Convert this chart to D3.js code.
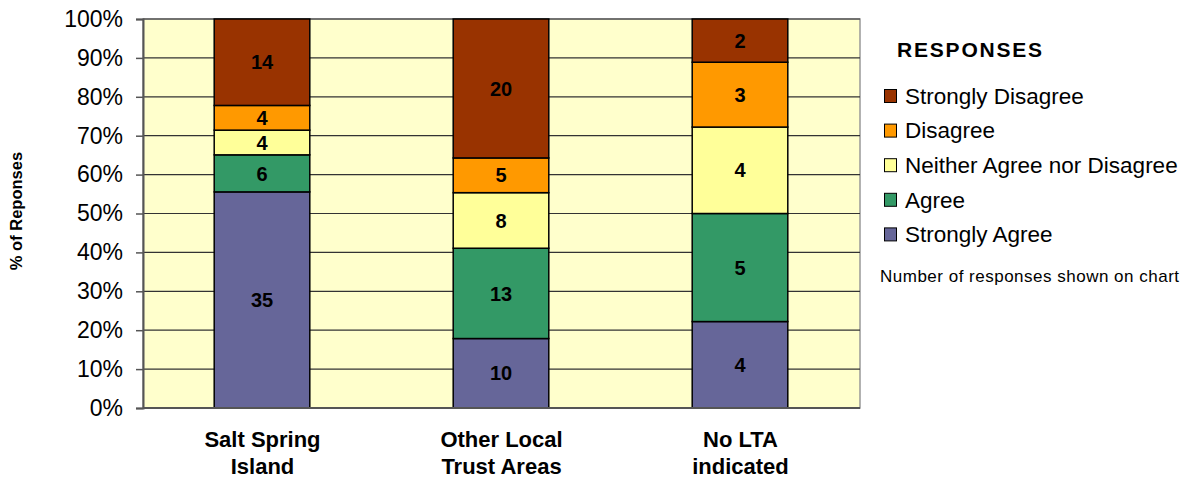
<!DOCTYPE html>
<html>
<head>
<meta charset="utf-8">
<script src="https://cdn.jsdelivr.net/npm/d3@7"></script>
<style>
  body { margin: 0; background: #fff; }
  svg { display: block; font-family: "Liberation Sans", Arial, sans-serif; }
</style>
</head>
<body>
<svg id="chart" width="1188" height="478"></svg>
<script>
// Survey responses by local trust area (counts)
const categories = [["Salt Spring", "Island"], ["Other Local", "Trust Areas"], ["No LTA", "indicated"]];
const seriesNames = ["Strongly Agree", "Agree", "Neither Agree nor Disagree", "Disagree", "Strongly Disagree"];
const strongAgree = [35, 10, 4];
const agree = [6, 13, 5];
const neither = [4, 8, 4];
const disagree = [4, 5, 3];
const strongDisagree = [14, 20, 2];
const yTicks = [0, 0.1, 0.2, 0.3, 0.4, 0.5, 0.6, 0.7, 0.8, 0.9, 1];
const colors = ["#666699", "#339966", "#FFFF99", "#FF9900", "#993300"];

const seriesValues = [strongAgree, agree, neither, disagree, strongDisagree];
const rows = categories.map((c, i) => {
  const r = { key: i };
  seriesNames.forEach((s, j) => r[s] = seriesValues[j][i]);
  r.total = d3.sum(seriesValues, v => v[i]);
  return r;
});

const svg = d3.select("#chart");
const plot = { left: 143, top: 19, right: 860, bottom: 408 };

const x = d3.scaleBand().domain(rows.map(r => r.key)).range([plot.left, plot.right]).paddingInner(0.6).paddingOuter(0.3);
const y = d3.scaleLinear().domain([0, 1]).range([plot.bottom, plot.top]);

// plot background and border
svg.append("rect")
  .attr("x", plot.left).attr("y", plot.top)
  .attr("width", plot.right - plot.left).attr("height", plot.bottom - plot.top)
  .attr("fill", "#FFFFCC").attr("stroke", "#999").attr("stroke-width", 1.5);

// horizontal gridlines
svg.append("g").selectAll("line").data(yTicks.slice(1)).join("line")
  .attr("x1", plot.left).attr("x2", plot.right)
  .attr("y1", d => y(d)).attr("y2", d => y(d))
  .attr("stroke", "#333").attr("stroke-width", 1.2);

// stacked bars (normalised to 100%)
const stack = d3.stack().keys(seriesNames).value((r, k) => r[k] / r.total);
const layers = stack(rows);

const g = svg.append("g");
layers.forEach((layer, j) => {
  g.append("g").selectAll("rect").data(layer).join("rect")
    .attr("x", d => x(d.data.key) - 0.5)
    .attr("width", x.bandwidth())
    .attr("y", d => y(d[1]))
    .attr("height", d => y(d[0]) - y(d[1]))
    .attr("fill", colors[j])
    .attr("stroke", "#000").attr("stroke-width", 1.5);
});
layers.forEach((layer, j) => {
  g.append("g").selectAll("text").data(layer).join("text")
    .attr("x", d => x(d.data.key) - 0.5 + x.bandwidth() / 2)
    .attr("y", d => (y(d[0]) + y(d[1])) / 2)
    .attr("dy", "0.36em")
    .attr("text-anchor", "middle")
    .attr("font-size", 20).attr("font-weight", "bold").attr("fill", "#000")
    .text(d => d.data[layer.key]);
});

// y axis
const yAxis = d3.axisLeft(y).tickValues(yTicks).tickFormat(d3.format(".0%")).tickSize(7).tickPadding(13);
const ya = svg.append("g").attr("transform", `translate(${plot.left},0)`).call(yAxis);
ya.select(".domain").attr("stroke", "#555").attr("stroke-width", 2);
ya.selectAll(".tick line").attr("stroke", "#555").attr("stroke-width", 1.5);
ya.selectAll(".tick text").attr("font-size", 23).attr("fill", "#000")
  .attr("font-family", "'Liberation Sans', Arial, sans-serif");

// bottom axis line
svg.append("line").attr("x1", plot.left).attr("x2", plot.right)
  .attr("y1", plot.bottom).attr("y2", plot.bottom)
  .attr("stroke", "#555").attr("stroke-width", 2);

// category labels
svg.append("g").selectAll("text").data(rows).join("text")
  .attr("x", r => x(r.key) + x.bandwidth() / 2)
  .attr("y", 447)
  .attr("text-anchor", "middle")
  .attr("font-size", 22).attr("font-weight", "bold").attr("fill", "#000")
  .each(function(r) {
    const t = d3.select(this);
    categories[r.key].forEach((line, k) => {
      t.append("tspan").attr("x", x(r.key) + x.bandwidth() / 2).attr("dy", k === 0 ? 0 : 27).text(line);
    });
  });

// y axis title
svg.append("text")
  .attr("transform", "translate(22,211) rotate(-90)")
  .attr("text-anchor", "middle")
  .attr("font-size", 16.5).attr("font-weight", "bold").attr("fill", "#000")
  .text("% of Reponses");

// legend
const legend = svg.append("g");
legend.append("text").attr("x", 897).attr("y", 57)
  .attr("font-size", 21).attr("font-weight", "bold").attr("fill", "#000")
  .attr("letter-spacing", 1.8)
  .text("RESPONSES");
const legendOrder = seriesNames.map((s, j) => ({ name: s, color: colors[j] })).reverse();
const li = legend.selectAll("g.item").data(legendOrder).join("g")
  .attr("class", "item")
  .attr("transform", (d, i) => `translate(884,${96 + i * 34.6})`);
li.append("rect").attr("x", 0.5).attr("y", -6.5).attr("width", 12).attr("height", 13)
  .attr("fill", d => d.color).attr("stroke", "#000").attr("stroke-width", 1);
li.append("text").attr("x", 21).attr("y", 0).attr("dy", "0.35em")
  .attr("font-size", 22.5).attr("fill", "#000").text(d => d.name);
legend.append("text").attr("x", 880).attr("y", 282)
  .attr("font-size", 17).attr("letter-spacing", 0.5).attr("fill", "#000")
  .text("Number of responses shown on chart");
</script>
</body>
</html>
